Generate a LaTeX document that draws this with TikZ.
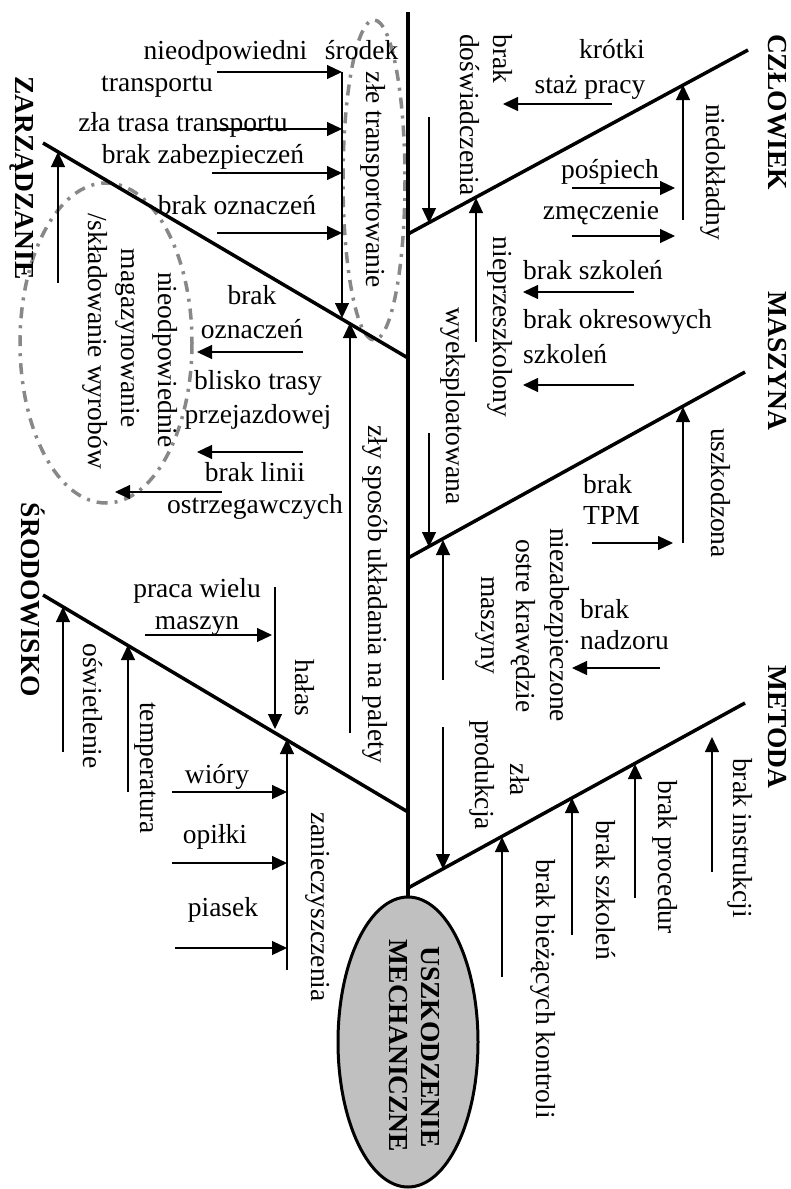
\documentclass[tikz,border=0pt]{standalone}
\usepackage{fontspec}
\setmainfont{Liberation Serif}
\usetikzlibrary{arrows.meta,shapes.geometric}
\definecolor{ringgray}{RGB}{136,136,136}
\definecolor{headgray}{RGB}{192,192,192}
\begin{document}
\begin{tikzpicture}[x=1pt,y=-1pt,
  lbl/.style={font=\fontsize{27.5}{33}\selectfont, inner sep=0pt, text height=19pt, text depth=6pt},
  vlbl/.style={lbl, rotate=-90},
  cat/.style={font=\bfseries\fontsize{27.5}{33}\selectfont, inner sep=0pt, rotate=-90, text height=18pt, text depth=0pt},
  bone/.style={line width=3.5pt},
  arr/.style={line width=1.2pt, -{Triangle[length=15pt,width=14pt]}},
  ring/.style={draw=ringgray, line width=3.5pt, dash pattern=on 11pt off 7pt on 3pt off 7pt}
]
\useasboundingbox[fill=white] (0,0) rectangle (790,1189);

% rings
\draw[ring] (374,180) ellipse [x radius=31, y radius=160];
\draw[ring] (106,343) ellipse [x radius=86, y radius=160];

% head
\node[draw, ellipse, fill=headgray, line width=3pt, minimum width=140pt, minimum height=290pt, inner sep=0pt] (head) at (408,1042) {};
\node[cat] (h1) at (430,1047) {USZKODZENIE};
\node[cat] (h2) at (398,1046) {MECHANICZNE};

% spine
\coordinate (top) at (408,12);
\draw[line width=4.5pt] (top) -- (head.north);

% bones
\coordinate (czA) at (408,234); \coordinate (czB) at (748,50);
\coordinate (maA) at (408,558); \coordinate (maB) at (745,372);
\coordinate (meA) at (408,888); \coordinate (meB) at (745,703);
\coordinate (zaA) at (408,358); \coordinate (zaB) at (43,143);
\coordinate (srA) at (408,812); \coordinate (srB) at (43,595);
\draw[bone] (czA) -- (czB);
\draw[bone] (maA) -- (maB);
\draw[bone] (meA) -- (meB);
\draw[bone] (zaA) -- (zaB);
\draw[bone] (srA) -- (srB);

% category labels
\node[cat] (cz) at (777,112) {CZŁOWIEK};
\node[cat] (ma) at (777,361) {MASZYNA};
\node[cat] (me) at (777,727) {METODA};
\node[cat] (za) at (25,178) {ZARZĄDZANIE};
\node[cat] (sr) at (30,600) {ŚRODOWISKO};

% ===== CZLOWIEK =====
\coordinate (c1s) at (683,220); \coordinate (c1e) at (683,85);
\draw[arr] (c1s) -- (c1e);
\node[vlbl] (c1) at (713,172) {niedokładny};
\node[lbl] (c2) at (610,172) {pośpiech};
\coordinate (c2s) at (572,188); \coordinate (c2e) at (675,188);
\draw[arr] (c2s) -- (c2e);
\node[lbl] (c3) at (601,213) {zmęczenie};
\coordinate (c3s) at (572,236); \coordinate (c3e) at (675,236);
\draw[arr] (c3s) -- (c3e);
\node[lbl] (c4a) at (612,52) {krótki};
\node[lbl] (c4b) at (590,87) {staż pracy};
\coordinate (c4s) at (612,104); \coordinate (c4e) at (503,104);
\draw[arr] (c4s) -- (c4e);
\node[vlbl] (c5a) at (500,59) {brak};
\node[vlbl] (c5b) at (467,115) {doświadczenia};
\coordinate (c5s) at (429,117); \coordinate (c5e) at (429,223);
\draw[arr] (c5s) -- (c5e);
\node[vlbl] (c6) at (500,327) {nieprzeszkolony};
\coordinate (c6s) at (476,342); \coordinate (c6e) at (476,198);
\draw[arr] (c6s) -- (c6e);
\node[lbl, anchor=west] (c7) at (523,273) {brak szkoleń};
\coordinate (c7s) at (634,292); \coordinate (c7e) at (523,292);
\draw[arr] (c7s) -- (c7e);
\node[lbl, anchor=west] (c8a) at (523,322) {brak okresowych};
\node[lbl, anchor=west] (c8b) at (523,357) {szkoleń};
\coordinate (c8s) at (634,385); \coordinate (c8e) at (523,385);
\draw[arr] (c8s) -- (c8e);

% ===== MASZYNA =====
\node[vlbl] (m1) at (453,406) {wyeksploatowana};
\coordinate (m1s) at (429,433); \coordinate (m1e) at (429,547);
\draw[arr] (m1s) -- (m1e);
\coordinate (m2s) at (683,543); \coordinate (m2e) at (683,407);
\draw[arr] (m2s) -- (m2e);
\node[vlbl] (m2) at (718,493) {uszkodzona};
\node[lbl, anchor=west] (m3a) at (583,487) {brak};
\node[lbl, anchor=west] (m3b) at (583,518) {TPM};
\coordinate (m3s) at (592,543); \coordinate (m3e) at (673,543);
\draw[arr] (m3s) -- (m3e);
\node[vlbl] (m4a) at (557,625) {niezabezpieczone};
\node[vlbl] (m4b) at (523,626) {ostre krawędzie};
\node[vlbl] (m4c) at (488,625) {maszyny};
\coordinate (m4s) at (443,680); \coordinate (m4e) at (443,540);
\draw[arr] (m4s) -- (m4e);
\node[lbl, anchor=west] (m5a) at (580,612) {brak};
\node[lbl, anchor=west] (m5b) at (580,643) {nadzoru};
\coordinate (m5s) at (660,668); \coordinate (m5e) at (572,668);
\draw[arr] (m5s) -- (m5e);

% ===== METODA =====
\coordinate (e1s) at (712,872); \coordinate (e1e) at (712,737);
\draw[arr] (e1s) -- (e1e);
\node[vlbl] (e1) at (740,838) {brak instrukcji};
\coordinate (e2s) at (635,898); \coordinate (e2e) at (635,764);
\draw[arr] (e2s) -- (e2e);
\node[vlbl] (e2) at (665,857) {brak procedur};
\coordinate (e3s) at (572,935); \coordinate (e3e) at (572,798);
\draw[arr] (e3s) -- (e3e);
\node[vlbl] (e3) at (603,890) {brak szkoleń};
\coordinate (e4s) at (502,977); \coordinate (e4e) at (502,837);
\draw[arr] (e4s) -- (e4e);
\node[vlbl] (e4) at (543,989) {brak bieżących kontroli};
\node[vlbl] (e5a) at (517,780) {zła};
\node[vlbl] (e5b) at (482,775) {produkcja};
\coordinate (e5s) at (443,727); \coordinate (e5e) at (443,869);
\draw[arr] (e5s) -- (e5e);

% ===== ZARZADZANIE =====
\coordinate (z1s) at (342,72); \coordinate (z1e) at (342,318);
\draw[arr] (z1s) -- (z1e);
\node[vlbl] (z1) at (373,180) {złe transportowanie};
\node[lbl] (z2a) at (271,53) {nieodpowiedni\hspace{0.4em} środek};
\node[lbl] (z2b) at (157,85) {transportu};
\coordinate (z2s) at (217,72);
\draw[arr] (z2s) -- (z1s);
\node[lbl] (z3) at (183,125) {zła trasa transportu};
\coordinate (z3s) at (217,129); \coordinate (z3e) at (342,129);
\draw[arr] (z3s) -- (z3e);
\node[lbl] (z4) at (203,157) {brak zabezpieczeń};
\coordinate (z4s) at (212,173); \coordinate (z4e) at (342,173);
\draw[arr] (z4s) -- (z4e);
\node[lbl] (z5) at (237,208) {brak oznaczeń};
\coordinate (z5s) at (217,233); \coordinate (z5e) at (342,233);
\draw[arr] (z5s) -- (z5e);
\coordinate (z6s) at (350,733); \coordinate (z6e) at (350,323);
\draw[arr] (z6s) -- (z6e);
\node[vlbl] (z6) at (375,594) {zły sposób układania na palety};
\node[lbl] (z7a) at (252,298) {brak};
\node[lbl] (z7b) at (252,332) {oznaczeń};
\coordinate (z7s) at (303,352); \coordinate (z7e) at (197,352);
\draw[arr] (z7s) -- (z7e);
\node[lbl] (z8a) at (258,383) {blisko trasy};
\node[lbl] (z8b) at (258,417) {przejazdowej};
\coordinate (z8s) at (303,452); \coordinate (z8e) at (197,452);
\draw[arr] (z8s) -- (z8e);
\node[lbl] (z9a) at (255,475) {brak linii};
\node[lbl] (z9b) at (255,507) {ostrzegawczych};
\coordinate (z9s) at (222,492); \coordinate (z9e) at (115,492);
\draw[arr] (z9s) -- (z9e);
\coordinate (z10s) at (58,283); \coordinate (z10e) at (58,152);
\draw[arr] (z10s) -- (z10e);
\node[vlbl] (z11a) at (165,360) {nieodpowiednie};
\node[vlbl] (z11b) at (128,338) {magazynowanie};
\node[vlbl] (z11c) at (95,341) {/składowanie wyrobów};

% ===== SRODOWISKO =====
\coordinate (s1s) at (63,752); \coordinate (s1e) at (63,607);
\draw[arr] (s1s) -- (s1e);
\node[vlbl] (s1) at (90,706) {oświetlenie};
\coordinate (s2s) at (128,792); \coordinate (s2e) at (128,645);
\draw[arr] (s2s) -- (s2e);
\node[vlbl] (s2) at (147,768) {temperatura};
\node[lbl] (s3a) at (197,591) {praca wielu};
\node[lbl] (s3b) at (197,623) {maszyn};
\coordinate (s3s) at (145,635); \coordinate (s3e) at (272,635);
\draw[arr] (s3s) -- (s3e);
\coordinate (s4s) at (275,587); \coordinate (s4e) at (275,729);
\draw[arr] (s4s) -- (s4e);
\node[vlbl] (s4) at (302,688) {hałas};
\coordinate (s5s) at (287,970); \coordinate (s5e) at (287,739);
\draw[arr] (s5s) -- (s5e);
\node[vlbl] (s5) at (318,907) {zanieczyszczenia};
\node[lbl] (s6) at (217,777) {wióry};
\coordinate (s6s) at (172,792); \coordinate (s6e) at (287,792);
\draw[arr] (s6s) -- (s6e);
\node[lbl] (s7) at (215,837) {opiłki};
\coordinate (s7s) at (172,863); \coordinate (s7e) at (287,863);
\draw[arr] (s7s) -- (s7e);
\node[lbl] (s8) at (223,910) {piasek};
\coordinate (s8s) at (175,948); \coordinate (s8e) at (287,948);
\draw[arr] (s8s) -- (s8e);
\end{tikzpicture}
\end{document}
